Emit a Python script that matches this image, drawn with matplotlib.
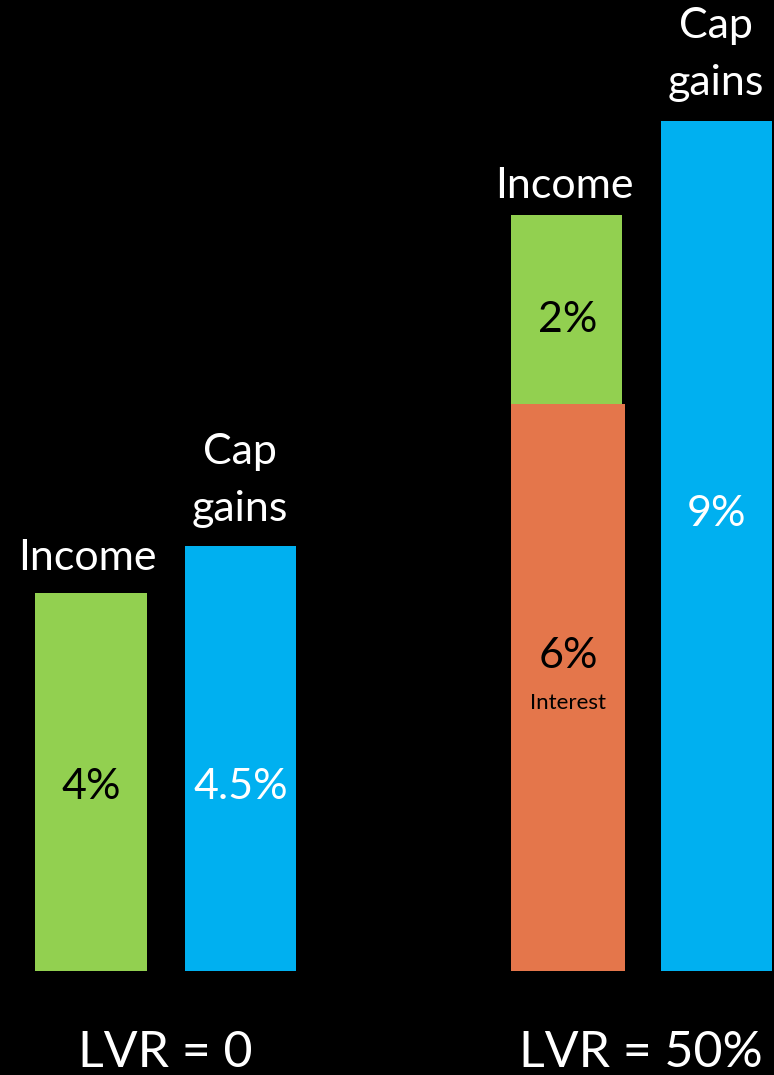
import numpy as np
import matplotlib.pyplot as plt
import matplotlib

matplotlib.rcParams['font.family'] = ['Lato', 'DejaVu Sans']

# Returns (%)
left_income = 4.0
left_capgains = 4.5
right_interest = 6.0
right_income = 2.0
right_capgains = 9.0

value_labels_left = ['4%', '4.5%']
value_labels_right = ['6%', '2%', '9%']
group_labels = ['LVR = 0', 'LVR = 50%']

green, blue, orange = '#92D050', '#00B0F0', '#E4764B'

# Layout: one figure pixel ~ one x unit, y in percent (94.5 px per %)
px_per_pct = 94.5
base_px = 971
W, H = 774, 1075

fig = plt.figure(figsize=(W / 100, H / 100), dpi=100, facecolor='black')
ax = fig.add_axes([0, 0, 1, 1])
ax.set_facecolor('black')
ax.set_xlim(0, W)
ax.set_ylim(-(H - base_px) / px_per_pct, base_px / px_per_pct)
ax.axis('off')


def py(pix):
    """pixel row -> percent units"""
    return (base_px - pix) / px_per_pct


# Left group
ax.bar(91, left_income, width=112, color=green)
ax.bar(240.5, left_capgains, width=111, color=blue)
# Right group
ax.bar(568, right_interest, width=114, color=orange)
ax.bar(566.5, right_income, width=111, bottom=right_interest, color=green)
ax.bar(716.5, right_capgains, width=111, color=blue)

big = 31
kw = dict(fontsize=big, ha='center', va='center')
ax.text(87, py(558), 'Income', color='white', **kw)
ax.text(240, py(452), 'Cap', color='white', **kw)
ax.text(240, py(509), 'gains', color='white', **kw)
ax.text(564, py(186), 'Income', color='white', **kw)
ax.text(716, py(26), 'Cap', color='white', **kw)
ax.text(716, py(83), 'gains', color='white', **kw)

ax.text(91, py(787), value_labels_left[0], color='black', **kw)
ax.text(240.5, py(787), value_labels_left[1], color='white', **kw)
ax.text(568, py(656), value_labels_right[0], color='black', **kw)
ax.text(568, py(703), 'Interest', color='black', fontsize=16, ha='center', va='center')
ax.text(568, py(320), value_labels_right[1], color='black', **kw)
ax.text(716.5, py(514), value_labels_right[2], color='white', **kw)

ax.text(165, py(1053), group_labels[0], color='white', fontsize=36, ha='center', va='center')
ax.text(641, py(1053), group_labels[1], color='white', fontsize=36, ha='center', va='center')

fig.savefig('out.png', dpi=100, facecolor='black')
